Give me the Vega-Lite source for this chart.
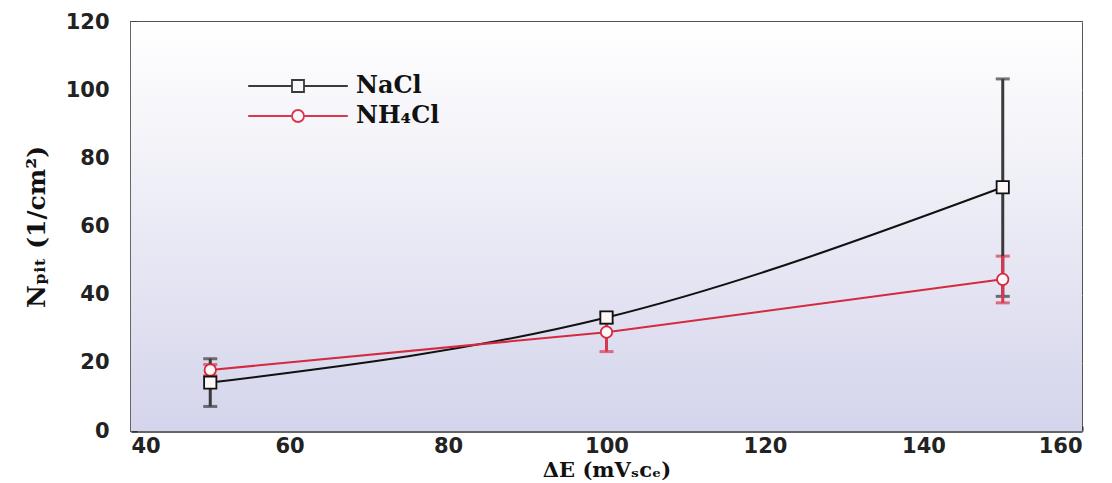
{
  "$schema": "https://vega.github.io/schema/vega-lite/v6.json",
  "width": 951,
  "height": 409,
  "autosize": {"type": "none"},
  "padding": {"left": 131, "top": 22, "right": 30, "bottom": 52},
  "background": "white",
  "config": {
    "view": {"stroke": "#555", "strokeWidth": 2},
    "axis": {
      "zindex": 1,
      "labelFont": "DejaVu Sans",
      "labelFontWeight": "bold",
      "labelFontSize": 21,
      "labelColor": "#222",
      "titleFont": "DejaVu Serif",
      "titleFontWeight": "bold",
      "titleColor": "#111",
      "domainColor": "#666",
      "domainWidth": 3,
      "tickColor": "#333",
      "tickWidth": 2
    }
  },
  "data": {"values": [
    {"series": "NaCl", "x": 50, "y": 14.2, "lo": 7.2, "hi": 21.2},
    {"series": "NaCl", "x": 100, "y": 33.3, "lo": 31.7, "hi": 34.8},
    {"series": "NaCl", "x": 150, "y": 71.5, "lo": 39.5, "hi": 103.3},
    {"series": "NH₄Cl", "x": 50, "y": 17.9, "lo": 16.2, "hi": 19.5},
    {"series": "NH₄Cl", "x": 100, "y": 29.0, "lo": 23.3, "hi": 34.0},
    {"series": "NH₄Cl", "x": 150, "y": 44.5, "lo": 37.6, "hi": 51.3}
  ]},
  "layer": [
    {
      "mark": {"type": "rect", "fill": {"gradient": "linear", "x1": 0, "y1": 0, "x2": 0, "y2": 1, "stops": [{"offset": 0, "color": "#ffffff"}, {"offset": 0.35, "color": "#f1f1f8"}, {"offset": 1, "color": "#d4d4ec"}]}},
      "data": {"values": [{"bg": 1}]},
      "encoding": {}
    },
    {
      "mark": {"type": "errorbar", "ticks": {"size": 14, "thickness": 3}, "thickness": 3},
      "encoding": {
        "x": {"field": "x", "type": "quantitative", "scale": {"domain": [40, 160], "nice": false, "zero": false}},
        "y": {"field": "lo", "type": "quantitative", "scale": {"domain": [0, 120], "nice": false}, "title": "Nₚᵢₜ (1/cm²)"},
        "y2": {"field": "hi"},
        "color": {"field": "series", "type": "nominal",
          "scale": {"domain": ["NaCl", "NH₄Cl"], "range": ["#3a3a3a", "#d9374e"]},
          "legend": {
            "orient": "none", "legendX": 155, "legendY": 52, "title": null,
            "padding": 0, "rowPadding": 6, "symbolSize": 144, "symbolStrokeWidth": 1.8,
            "labelFont": "DejaVu Serif", "labelFontWeight": "bold", "labelFontSize": 24, "labelColor": "#111",
            "labelOffset": 46,
            "encode": {"symbols": {"update": {
              "shape": {"signal": "datum.value === 'NaCl' ? 'M-8.3,0H-1M1,0H8.3M-1,-1H1V1H-1Z' : 'M-8.3,0H-1M1,0H8.3M-1,0A1,1 0 1,0 1,0A1,1 0 1,0 -1,0Z'"},
              "fillOpacity": {"value": 0},
              "stroke": {"signal": "datum.value === 'NaCl' ? '#111111' : '#d42a40'"},
              "strokeWidth": {"value": 1.8}
            }}}
          }
        }
      }
    },
    {
      "transform": [{"filter": "datum.series === 'NaCl'"}],
      "mark": {"type": "line", "interpolate": "monotone", "strokeWidth": 2, "color": "#111"},
      "encoding": {
        "x": {"field": "x", "type": "quantitative"},
        "y": {"field": "y", "type": "quantitative"}
      }
    },
    {
      "transform": [{"filter": "datum.series !== 'NaCl'"}],
      "mark": {"type": "line", "strokeWidth": 2, "color": "#d42a40"},
      "encoding": {
        "x": {"field": "x", "type": "quantitative"},
        "y": {"field": "y", "type": "quantitative"}
      }
    },
    {
      "transform": [{"filter": "datum.series !== 'NaCl'"}],
      "mark": {"type": "point", "shape": "circle", "size": 130, "filled": false, "fill": "#fdf7f7", "fillOpacity": 1, "stroke": "#d42a40", "strokeWidth": 1.8, "opacity": 1},
      "encoding": {
        "x": {"field": "x", "type": "quantitative"},
        "y": {"field": "y", "type": "quantitative"}
      }
    },
    {
      "transform": [{"filter": "datum.series === 'NaCl'"}],
      "mark": {"type": "point", "shape": "square", "size": 150, "filled": false, "fill": "#fdf7f7", "fillOpacity": 1, "stroke": "#111111", "strokeWidth": 1.8, "opacity": 1},
      "encoding": {
        "x": {"field": "x", "type": "quantitative",
          "scale": {"domain": [40, 160], "nice": false, "zero": false},
          "axis": {"values": [40,45,50,55,60,65,70,75,80,85,90,95,100,105,110,115,120,125,130,135,140,145,150,155,160],
                   "labelExpr": "datum.value % 20 === 0 ? datum.label : ''",
                   "tickSize": -5, "labelPadding": 9, "grid": false,
                   "title": "ΔE (mVₛᴄₑ)", "titleFontSize": 21, "titlePadding": 3}},
        "y": {"field": "y", "type": "quantitative",
          "scale": {"domain": [0, 120], "nice": false},
          "axis": {"values": [0,5,10,15,20,25,30,35,40,45,50,55,60,65,70,75,80,85,90,95,100,105,110,115,120],
                   "labelExpr": "datum.value % 20 === 0 ? datum.label : ''",
                   "tickSize": -6, "labelPadding": 28, "grid": true, "gridColor": "#b4b4c0", "gridWidth": 1,
                   "title": "Nₚᵢₜ (1/cm²)", "titleFontSize": 25, "titlePadding": 16}}
      }
    }
  ]
}
